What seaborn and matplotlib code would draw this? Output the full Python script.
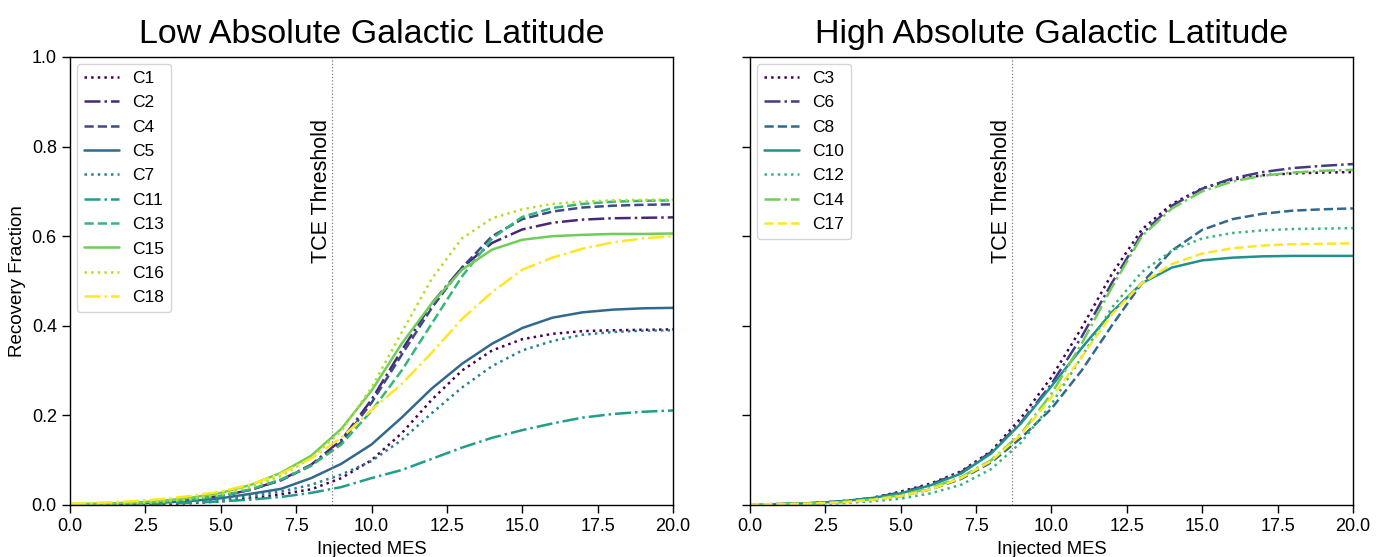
import matplotlib
matplotlib.use("Agg")
import matplotlib.pyplot as plt
import seaborn as sns
import numpy as np
import pandas as pd

# ---------------- data ----------------
mes = [0, 1, 2, 3, 4, 5, 6, 7, 8, 9, 10, 11, 12, 13, 14, 15, 16, 17, 18, 19, 20]

low_labels = ["C1", "C2", "C4", "C5", "C7", "C11", "C13", "C15", "C16", "C18"]
C1  = [0.000, 0.000, 0.001, 0.002, 0.004, 0.008, 0.015, 0.024, 0.035, 0.060, 0.100, 0.160, 0.235, 0.300, 0.345, 0.370, 0.382, 0.388, 0.390, 0.391, 0.392]
C2  = [0.001, 0.002, 0.004, 0.007, 0.012, 0.020, 0.034, 0.056, 0.090, 0.145, 0.235, 0.345, 0.450, 0.530, 0.585, 0.615, 0.630, 0.637, 0.640, 0.641, 0.642]
C4  = [0.001, 0.002, 0.004, 0.007, 0.012, 0.020, 0.034, 0.055, 0.088, 0.140, 0.228, 0.335, 0.440, 0.530, 0.600, 0.638, 0.655, 0.664, 0.668, 0.670, 0.671]
C5  = [0.001, 0.002, 0.003, 0.005, 0.009, 0.015, 0.025, 0.036, 0.060, 0.092, 0.135, 0.195, 0.260, 0.315, 0.360, 0.395, 0.418, 0.430, 0.436, 0.439, 0.440]
C7  = [0.001, 0.002, 0.003, 0.005, 0.008, 0.013, 0.020, 0.030, 0.045, 0.068, 0.098, 0.145, 0.205, 0.262, 0.310, 0.345, 0.366, 0.380, 0.386, 0.389, 0.390]
C11 = [0.001, 0.001, 0.002, 0.003, 0.005, 0.008, 0.012, 0.018, 0.027, 0.040, 0.060, 0.078, 0.103, 0.128, 0.150, 0.167, 0.182, 0.195, 0.203, 0.208, 0.211]
C13 = [0.001, 0.002, 0.004, 0.007, 0.012, 0.020, 0.035, 0.057, 0.088, 0.135, 0.210, 0.300, 0.405, 0.510, 0.595, 0.643, 0.663, 0.672, 0.677, 0.679, 0.680]
C15 = [0.002, 0.003, 0.005, 0.009, 0.016, 0.027, 0.045, 0.072, 0.110, 0.170, 0.255, 0.360, 0.450, 0.525, 0.570, 0.592, 0.600, 0.603, 0.605, 0.605, 0.606]
C16 = [0.000, 0.001, 0.003, 0.007, 0.013, 0.023, 0.040, 0.065, 0.105, 0.165, 0.262, 0.385, 0.505, 0.595, 0.640, 0.660, 0.672, 0.677, 0.680, 0.681, 0.682]
C18 = [0.003, 0.005, 0.008, 0.013, 0.020, 0.030, 0.046, 0.070, 0.104, 0.150, 0.212, 0.270, 0.340, 0.415, 0.475, 0.525, 0.552, 0.572, 0.586, 0.595, 0.600]
low_values = [C1, C2, C4, C5, C7, C11, C13, C15, C16, C18]

high_labels = ["C3", "C6", "C8", "C10", "C12", "C14", "C17"]
C3  = [0.001, 0.002, 0.004, 0.008, 0.015, 0.030, 0.048, 0.075, 0.120, 0.195, 0.285, 0.395, 0.515, 0.615, 0.672, 0.707, 0.726, 0.736, 0.740, 0.742, 0.743]
C6  = [0.001, 0.002, 0.004, 0.008, 0.015, 0.028, 0.046, 0.073, 0.118, 0.185, 0.270, 0.375, 0.495, 0.605, 0.668, 0.706, 0.729, 0.743, 0.752, 0.757, 0.761]
C8  = [0.000, 0.001, 0.003, 0.006, 0.011, 0.020, 0.035, 0.058, 0.095, 0.150, 0.215, 0.300, 0.400, 0.495, 0.568, 0.614, 0.638, 0.650, 0.657, 0.660, 0.662]
C10 = [0.001, 0.002, 0.004, 0.008, 0.015, 0.026, 0.044, 0.070, 0.115, 0.183, 0.265, 0.350, 0.430, 0.495, 0.530, 0.546, 0.552, 0.555, 0.556, 0.556, 0.556]
C12 = [0.000, 0.001, 0.002, 0.004, 0.008, 0.014, 0.026, 0.045, 0.080, 0.140, 0.225, 0.330, 0.440, 0.520, 0.568, 0.595, 0.607, 0.613, 0.616, 0.617, 0.618]
C14 = [0.001, 0.002, 0.003, 0.006, 0.012, 0.022, 0.038, 0.062, 0.100, 0.160, 0.248, 0.360, 0.485, 0.600, 0.662, 0.700, 0.722, 0.735, 0.742, 0.746, 0.748]
C17 = [0.001, 0.002, 0.003, 0.006, 0.011, 0.020, 0.035, 0.060, 0.098, 0.158, 0.240, 0.330, 0.425, 0.495, 0.538, 0.561, 0.573, 0.579, 0.582, 0.583, 0.584]
high_values = [C3, C6, C8, C10, C12, C14, C17]

titles = ["Low Absolute Galactic Latitude", "High Absolute Galactic Latitude"]
tce_threshold = 8.7
x_ticks = [0.0, 2.5, 5.0, 7.5, 10.0, 12.5, 15.0, 17.5, 20.0]
y_ticks = [0.0, 0.2, 0.4, 0.6, 0.8, 1.0]

# ---------------- styling ----------------
sns.set_theme(style="ticks")
plt.rcParams["font.family"] = ["Liberation Sans", "DejaVu Sans"]
plt.rcParams["xtick.labelsize"] = 13
plt.rcParams["ytick.labelsize"] = 13
plt.rcParams["axes.linewidth"] = 1.0
plt.rcParams["xtick.major.width"] = 1.0
plt.rcParams["ytick.major.width"] = 1.0
plt.rcParams["xtick.color"] = "black"
plt.rcParams["ytick.color"] = "black"
plt.rcParams["axes.edgecolor"] = "black"
plt.rcParams["text.color"] = "black"
plt.rcParams["axes.labelcolor"] = "black"

styles = [":", "-.", "--", "-"]

fig = plt.figure(figsize=(13.87, 5.57), dpi=100)
ax_l = fig.add_axes([0.0505, 0.0934, 0.4347, 0.8043])
ax_r = fig.add_axes([0.5407, 0.0934, 0.4347, 0.8043], sharey=ax_l)

cmap = matplotlib.colormaps["viridis"]
low_pos = list(np.linspace(0, 1, len(low_labels)))
high_pos = [0.0, 1 / 6, 2 / 6, 3 / 6, 4 / 6, 0.78, 1.0]

for ax, labels, values, pos, title in [(ax_l, low_labels, low_values, low_pos, titles[0]),
                                       (ax_r, high_labels, high_values, high_pos, titles[1])]:
    cols = [cmap(v) for v in pos]
    for i, (lab, vals) in enumerate(zip(labels, values)):
        df = pd.DataFrame({"mes": mes, "frac": vals})
        sns.lineplot(data=df, x="mes", y="frac", ax=ax, color=cols[i],
                     linestyle=styles[i % 4], linewidth=1.8, label=lab)
    ax.axvline(tce_threshold, color="gray", linestyle=":", linewidth=0.9)
    ax.text(tce_threshold, 0.54, "TCE Threshold", rotation=90, ha="right",
            va="bottom", fontsize=15.5)
    ax.set_xlim(0, 20)
    ax.set_ylim(0, 1.0)
    ax.set_xticks(x_ticks)
    ax.set_xticklabels([f"{t:.1f}" for t in x_ticks])
    ax.set_yticks(y_ticks)
    ax.set_title(title, fontsize=24.5, pad=10, color="black")
    ax.set_xlabel("Injected MES", fontsize=13.3)
    for s in ax.spines.values():
        s.set_visible(True)
        s.set_color("black")
    ax.legend(loc="upper left", fontsize=12.5, handlelength=2.0,
              labelspacing=0.53, frameon=True, fancybox=True, framealpha=0.8,
              edgecolor="#cccccc", borderaxespad=0.4)

ax_l.set_yticklabels([f"{t:.1f}" for t in y_ticks])
ax_l.set_ylabel("Recovery Fraction", fontsize=13.5)
ax_r.set_ylabel("")
plt.setp(ax_r.get_yticklabels(), visible=False)

fig.savefig("out.png", dpi=100)
